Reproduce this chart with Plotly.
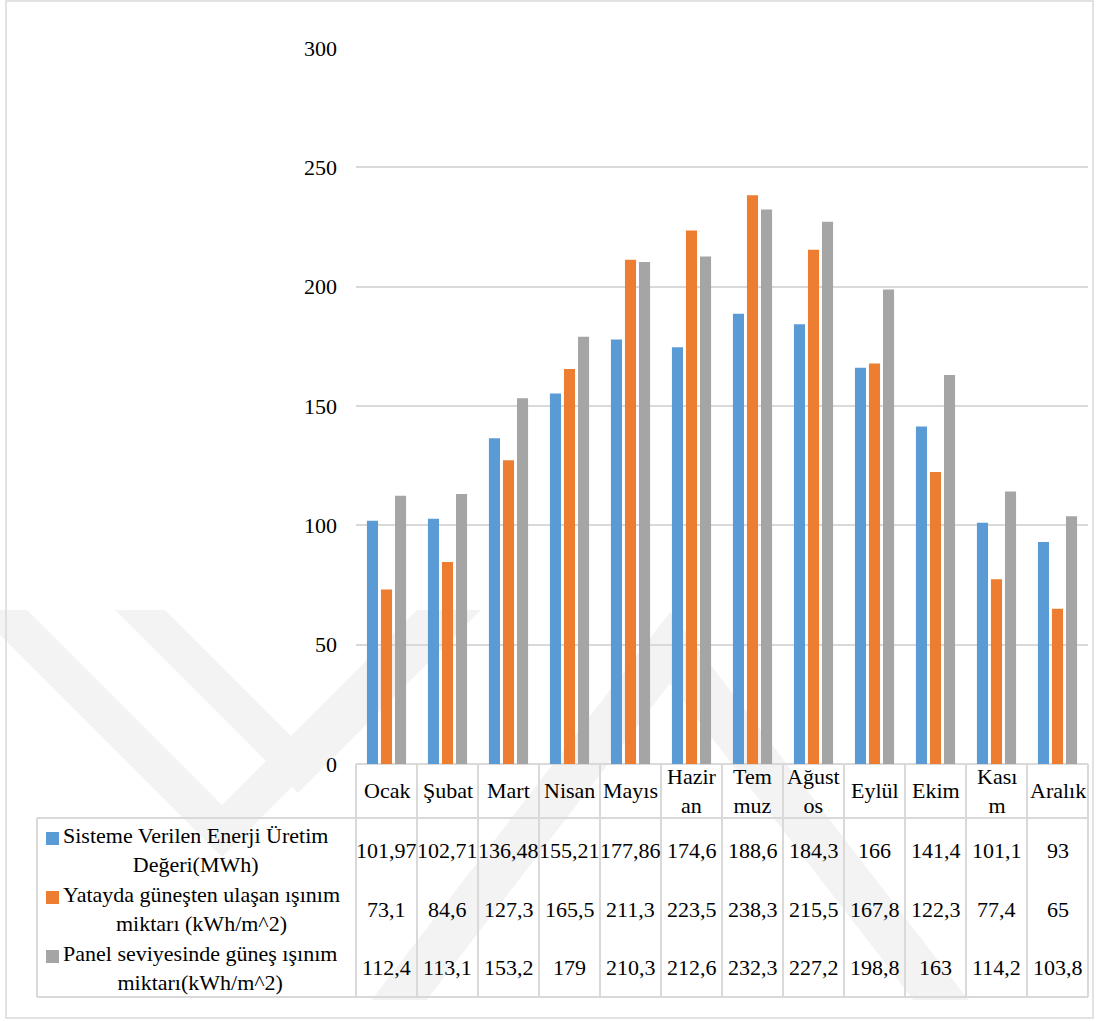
import plotly.graph_objects as go

# Months (category axis) and the header text as it wraps in the data table
months = ["Ocak", "Şubat", "Mart", "Nisan", "Mayıs", "Haziran",
          "Temmuz", "Ağustos", "Eylül", "Ekim", "Kasım", "Aralık"]
header_labels = ["Ocak", "Şubat", "Mart", "Nisan", "Mayıs", "Hazir<br>an",
                 "Tem<br>muz", "Ağust<br>os", "Eylül", "Ekim", "Kası<br>m", "Aralık"]

# Series values
enerji = [101.97, 102.71, 136.48, 155.21, 177.86, 174.6,
          188.6, 184.3, 166, 141.4, 101.1, 93]
yatay = [73.1, 84.6, 127.3, 165.5, 211.3, 223.5,
         238.3, 215.5, 167.8, 122.3, 77.4, 65]
panel = [112.4, 113.1, 153.2, 179, 210.3, 212.6,
         232.3, 227.2, 198.8, 163, 114.2, 103.8]

series_names = ["Sisteme Verilen Enerji Üretim<br>Değeri(MWh)",
                "Yatayda güneşten ulaşan ışınım<br>miktarı (kWh/m^2)",
                "Panel seviyesinde güneş ışınım<br>miktarı(kWh/m^2)"]
series_values = [enerji, yatay, panel]
series_colors = ["#5b9bd5", "#ed7d31", "#a5a5a5"]

y_ticks = [0, 50, 100, 150, 200, 250, 300]

W, H = 1099, 1021
ML, MR, MT, MB = 356, 11, 48, 257
PW, PH = W - ML - MR, H - MT - MB

FONT = "'Liberation Serif', 'DejaVu Serif', serif"
GRID = "#d9d9d9"


def px(x):
    return (x - ML) / PW


def py(y):
    return (H - MB - y) / PH


def fmt(v):
    return f"{v:g}".replace(".", ",")


fig = go.Figure()
for name, vals, col in zip(series_names, series_values, series_colors):
    fig.add_trace(go.Bar(x=months, y=vals, name=name.replace("<br>", " "),
                         marker=dict(color=col, line=dict(width=0)),
                         showlegend=False))

shapes = []

# faint background emblem
def poly(pts):
    path = "M " + " L ".join(f"{px(a):.5f},{py(b):.5f}" for a, b in pts) + " Z"
    return dict(type="path", xref="paper", yref="paper", path=path,
                fillcolor="#f3f3f3", line=dict(width=0), layer="below")


def vee(vx, vy, w, top):
    d = vy - top
    return [(vx - w - d, top), (vx - d, top), (vx, vy),
            (vx + d, top), (vx + d + w, top), (vx, vy + w)]


def lam(ax, ay, s, w, bottom):
    h = bottom - ay
    return [(ax, ay), (ax + h / s, bottom), (ax + h / s - w, bottom),
            (ax, ay + w * s), (ax - h / s + w, bottom), (ax - h / s, bottom)]


shapes.append(poly(vee(222, 805, 52, 610)))
shapes.append(poly(vee(298, 743, 50, 610)))
shapes.append(poly(lam(670, 612, 1.3, 55, 1000)))

# outer chart frame
shapes.append(dict(type="rect", xref="paper", yref="paper",
                   x0=px(6), x1=px(1093), y0=py(1018), y1=py(1),
                   line=dict(color=GRID, width=1.5), layer="below"))

# data table grid
ncol = len(months)
col_w = PW / ncol
for k in range(ncol + 1):
    xx = ML + k * col_w
    shapes.append(dict(type="line", xref="paper", yref="paper",
                       x0=px(xx), x1=px(xx), y0=py(764), y1=py(997),
                       line=dict(color=GRID, width=2)))
for yy in (818, 997):
    shapes.append(dict(type="line", xref="paper", yref="paper",
                       x0=px(37), x1=px(ML + PW), y0=py(yy), y1=py(yy),
                       line=dict(color=GRID, width=2)))
shapes.append(dict(type="line", xref="paper", yref="paper",
                   x0=px(37), x1=px(37), y0=py(818), y1=py(997),
                   line=dict(color=GRID, width=2)))

annotations = []
tfont = dict(family=FONT, size=22, color="#000000")

# header row
for m, lab in zip(months, header_labels):
    annotations.append(dict(x=m, xref="x", y=py(791), yref="paper",
                            text=lab, showarrow=False, font=tfont,
                            xanchor="center", yanchor="middle", align="center"))

# series rows
row_centers = [850, 909, 968]
for (name, vals, col), yc in zip(zip(series_names, series_values, series_colors), row_centers):
    for m, v in zip(months, vals):
        annotations.append(dict(x=m, xref="x", y=py(yc), yref="paper",
                                text=fmt(v), showarrow=False, font=tfont,
                                xanchor="center", yanchor="middle"))
    annotations.append(dict(x=px(61), xref="paper", y=py(yc), yref="paper",
                            text=name, showarrow=False, font=tfont,
                            xanchor="left", yanchor="middle", align="center"))
    shapes.append(dict(type="rect", xref="paper", yref="paper",
                       x0=px(46), x1=px(59), y0=py(yc - 5), y1=py(yc - 18),
                       fillcolor=col, line=dict(width=0)))

fig.update_layout(
    template="none",
    width=W, height=H, autosize=False,
    margin=dict(l=ML, r=MR, t=MT, b=MB, pad=0),
    paper_bgcolor="white", plot_bgcolor="rgba(0,0,0,0)",
    barmode="group", bargap=0.31, bargroupgap=0.21,
    shapes=shapes, annotations=annotations,
    xaxis=dict(range=[-0.5, ncol - 0.5], showgrid=False, showticklabels=False,
               zeroline=False, showline=False, ticks=""),
    yaxis=dict(range=[0, 300], tickvals=y_ticks, showgrid=True, gridcolor=GRID,
               gridwidth=1.5, zeroline=True, zerolinecolor=GRID, zerolinewidth=2,
               showline=False, ticks="", ticklabelstandoff=18,
               tickfont=dict(family=FONT, size=22, color="#000000")),
)

fig.write_html("out.html")
